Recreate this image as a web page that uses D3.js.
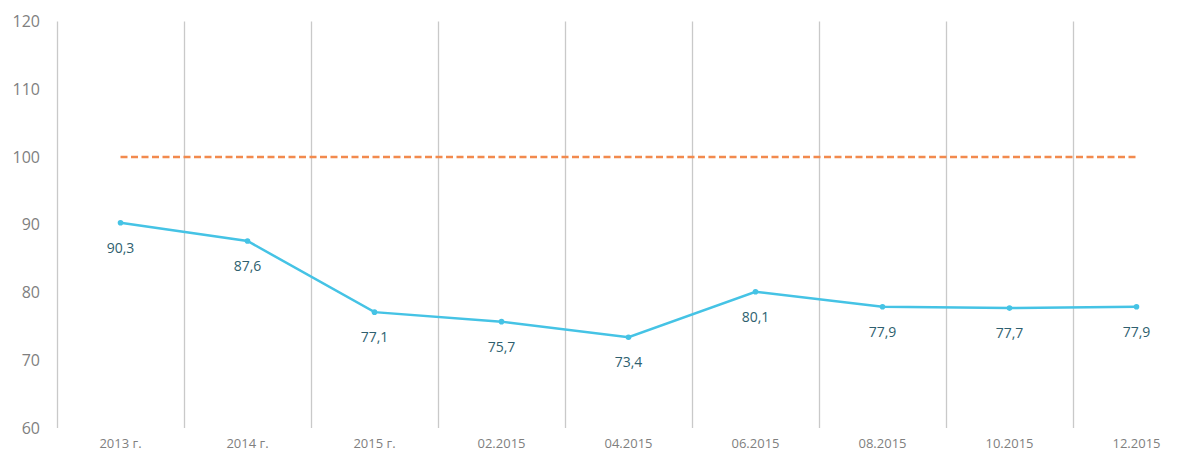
<!DOCTYPE html>
<html>
<head>
<meta charset="utf-8" />
<style>
body { margin:0; background:#fff; }
svg text { font-family: "Open Sans", "Noto Sans", sans-serif; }
</style>
</head>
<body>
<svg id="chart" width="1200" height="457"></svg>
<script src="https://cdn.jsdelivr.net/npm/d3@7"></script>
<script>
var categories = ["2013 г.", "2014 г.", "2015 г.", "02.2015", "04.2015", "06.2015", "08.2015", "10.2015", "12.2015"];
var values = [90.3, 87.6, 77.1, 75.7, 73.4, 80.1, 77.9, 77.7, 77.9];
var baseline = [100, 100, 100, 100, 100, 100, 100, 100, 100];
var yTicks = [60, 70, 80, 90, 100, 110, 120];

var svg = d3.select("#chart");
// plot area (window.top is reserved, so use other names)
var plotLeft = 57, plotRight = 1200, plotTop = 21.5, plotBottom = 428;

var x = d3.scaleBand().domain(categories).range([plotLeft, plotRight]);
var y = d3.scaleLinear().domain([60, 120]).range([plotBottom, plotTop]);
var cx = function(d) { return x(d) + x.bandwidth() / 2; };

// vertical gridlines at band edges
svg.append("g").selectAll("line")
	.data(categories)
	.enter().append("line")
	.attr("x1", function(d) { return Math.round(x(d)) + 0.5; })
	.attr("x2", function(d) { return Math.round(x(d)) + 0.5; })
	.attr("y1", plotTop)
	.attr("y2", plotBottom)
	.attr("stroke", "#c9c9c9")
	.attr("stroke-width", 1.3);

// y axis labels
var yAxis = d3.axisLeft(y).tickValues(yTicks).tickSize(0).tickPadding(0);
svg.append("g")
	.attr("transform", "translate(40,0)")
	.call(yAxis)
	.call(function(g) { g.select(".domain").remove(); })
	.selectAll("text")
	.attr("fill", "#7f7f7f")
	.style("font-size", "16px")
	.style("font-family", "'Open Sans', 'Noto Sans', sans-serif");

// x axis labels
var xAxis = d3.axisBottom(x).tickSize(0).tickPadding(0);
svg.append("g")
	.attr("transform", "translate(0,439)")
	.call(xAxis)
	.call(function(g) { g.select(".domain").remove(); })
	.selectAll("text")
	.attr("fill", "#7f7f7f")
	.style("font-size", "13px")
	.style("font-family", "'Open Sans', 'Noto Sans', sans-serif");

var lineGen = d3.line()
	.x(function(d, i) { return cx(categories[i]); })
	.y(function(d) { return y(d); });

// dashed 100 line
svg.append("path")
	.datum(baseline)
	.attr("d", lineGen)
	.attr("fill", "none")
	.attr("stroke", "#f28a4e")
	.attr("stroke-width", 2.5)
	.attr("stroke-dasharray", "7,3.5");

// main series
svg.append("path")
	.datum(values)
	.attr("d", lineGen)
	.attr("fill", "none")
	.attr("stroke", "#45c3e5")
	.attr("stroke-width", 2.5);

svg.append("g").selectAll("circle")
	.data(values)
	.enter().append("circle")
	.attr("cx", function(d, i) { return cx(categories[i]); })
	.attr("cy", function(d) { return y(d); })
	.attr("r", 2.8)
	.attr("fill", "#45c3e5");

svg.append("g").selectAll("text")
	.data(values)
	.enter().append("text")
	.attr("x", function(d, i) { return cx(categories[i]); })
	.attr("y", function(d) { return y(d) + 30; })
	.attr("text-anchor", "middle")
	.attr("fill", "#2f5f6f")
	.style("font-size", "14px")
	.text(function(d) { return d.toFixed(1).replace(".", ","); });
</script>
</body>
</html>
